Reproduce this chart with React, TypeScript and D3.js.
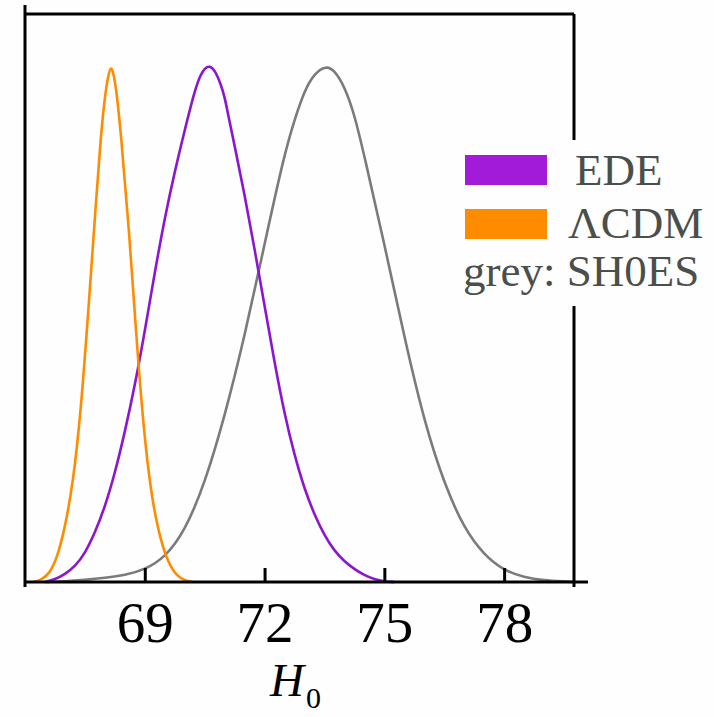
import React, { useEffect, useRef } from 'react';
import * as d3 from 'd3';

// H0 posteriors (normalised to peak = 1)
const lcdmCurve: [number, number][] = [
  [66.2, 0], [66.4, 0.004], [66.6, 0.015], [66.8, 0.045], [67.0, 0.105], [67.2, 0.19],
  [67.4, 0.33], [67.6, 0.54], [67.8, 0.76], [67.9, 0.865], [68.0, 0.94], [68.08, 0.98],
  [68.15, 1.0], [68.22, 0.985], [68.3, 0.945], [68.4, 0.87], [68.6, 0.69], [68.8, 0.46],
  [69.0, 0.27], [69.2, 0.15], [69.4, 0.08], [69.6, 0.035], [69.8, 0.012], [70.0, 0.003],
  [70.2, 0],
];
const edeCurve: [number, number][] = [
  [66.5, 0], [66.75, 0.005], [67.0, 0.015], [67.25, 0.03], [67.5, 0.055], [67.75, 0.095],
  [68.0, 0.145], [68.25, 0.21], [68.5, 0.29], [68.75, 0.38], [69.0, 0.485], [69.25, 0.6],
  [69.5, 0.705], [69.75, 0.795], [70.0, 0.875], [70.25, 0.952], [70.4, 0.983], [70.5, 0.995],
  [70.62, 1.0], [70.75, 0.992], [70.9, 0.965], [71.0, 0.94], [71.1, 0.9], [71.25, 0.845],
  [71.5, 0.75], [71.75, 0.645], [72.0, 0.535], [72.25, 0.425], [72.5, 0.325], [72.75, 0.245],
  [73.0, 0.18], [73.25, 0.13], [73.5, 0.09], [73.75, 0.06], [74.0, 0.04], [74.25, 0.025],
  [74.5, 0.013], [74.75, 0.005], [75.0, 0.001], [75.25, 0],
];
const shoesCurve: [number, number][] = [
  [66.5, 0], [67.0, 0.001], [67.5, 0.004], [68.0, 0.008], [68.5, 0.013], [69.0, 0.024],
  [69.5, 0.047], [70.0, 0.098], [70.5, 0.19], [71.0, 0.32], [71.5, 0.475], [72.0, 0.655],
  [72.5, 0.83], [72.75, 0.895], [73.0, 0.952], [73.25, 0.985], [73.54, 1.0], [73.75, 0.991],
  [74.0, 0.96], [74.25, 0.906], [74.5, 0.825], [75.0, 0.655], [75.5, 0.474], [76.0, 0.31],
  [76.5, 0.19], [77.0, 0.103], [77.5, 0.052], [78.0, 0.022], [78.5, 0.009], [79.0, 0.003],
  [79.5, 0.001], [79.75, 0],
];
const xTicks = [69, 72, 75, 78];
const legendItems = [
  { label: 'EDE', color: '#a11bd9' },
  { label: '\u039BCDM', color: '#ff8c00' },
];
const greyNote = 'grey: SH0ES';

const App = () => {
  const ref = useRef<SVGSVGElement>(null);

  useEffect(() => {
    const W = 714;
    const H = 717;
    const left = 25, right = 574, top = 14, bottom = 582;
    const svg = d3.select(ref.current).attr('width', W).attr('height', H);
    svg.selectAll('*').remove();

    svg.append('rect').attr('width', W).attr('height', H).attr('fill', '#fdfefd');

    const x = d3.scaleLinear().domain([66, 79.75]).range([left, right]);
    const y = d3.scaleLinear().domain([0, 1.1]).range([bottom, top]);

    const line = d3.line<[number, number]>()
      .x(d => x(d[0]))
      .y(d => y(d[1]))
      .curve(d3.curveBasis);

    const curves = [
      { data: shoesCurve, color: '#7b7b7b' },
      { data: edeCurve, color: '#8c16d0' },
      { data: lcdmCurve, color: '#ff8c00' },
    ];
    curves.forEach(c => {
      svg.append('path')
        .attr('d', line(c.data))
        .attr('fill', 'none')
        .attr('stroke', c.color)
        .attr('stroke-width', 2.6)
        .attr('stroke-linejoin', 'round');
    });

    // frame
    const frame = svg.append('g').attr('stroke', '#000').attr('stroke-width', 3).attr('fill', 'none');
    frame.append('line').attr('x1', left).attr('x2', left).attr('y1', 5).attr('y2', bottom + 5);
    frame.append('line').attr('x1', left).attr('x2', right).attr('y1', top).attr('y2', top);
    frame.append('line').attr('x1', right).attr('x2', right).attr('y1', top).attr('y2', bottom + 5);
    frame.append('line').attr('x1', left).attr('x2', right + 14).attr('y1', bottom).attr('y2', bottom);

    // x axis ticks pointing inward
    const axis = svg.append('g')
      .attr('transform', `translate(0,${bottom})`)
      .call(d3.axisBottom(x).tickValues(xTicks).tickSizeInner(-14).tickSizeOuter(0).tickPadding(0));
    axis.select('.domain').remove();
    axis.selectAll('.tick line').attr('stroke', '#000').attr('stroke-width', 3);
    axis.selectAll('.tick text')
      .attr('y', 60)
      .attr('dy', 0)
      .style('font-family', '"Liberation Serif", serif')
      .style('font-size', '57px')
      .attr('fill', '#000');

    // axis title H_0
    const title = svg.append('text')
      .attr('x', (left + right) / 2 - 4)
      .attr('y', 696)
      .attr('text-anchor', 'middle')
      .style('font-family', '"Liberation Serif", serif')
      .attr('fill', '#000');
    title.append('tspan').text('H').style('font-style', 'italic').style('font-size', '47px');
    title.append('tspan').text('0').attr('dy', 12).attr('dx', 2).style('font-size', '30px');

    // legend with white backing over the frame
    const lg = svg.append('g');
    lg.append('rect').attr('x', 455).attr('y', 140).attr('width', 259).attr('height', 166).attr('fill', '#fdfefd');
    legendItems.forEach((d, i) => {
      lg.append('rect')
        .attr('x', 465).attr('y', 155 + i * 54)
        .attr('width', 82).attr('height', 30)
        .attr('fill', d.color);
      lg.append('text')
        .attr('x', i === 0 ? 575 : 568)
        .attr('y', 185 + i * 53)
        .text(d.label)
        .style('font-family', '"Liberation Serif", serif')
        .style('font-size', '45px')
        .attr('fill', '#4b4f4b');
    });
    lg.append('text')
      .attr('x', 463).attr('y', 286)
      .text(greyNote)
      .style('font-family', '"Liberation Serif", serif')
      .style('font-size', '45px')
      .attr('fill', '#4b4f4b');
  }, []);

  return <svg ref={ref} style={{ position: 'absolute', left: 0, top: 0, display: 'block' }} />;
};

export default App;
